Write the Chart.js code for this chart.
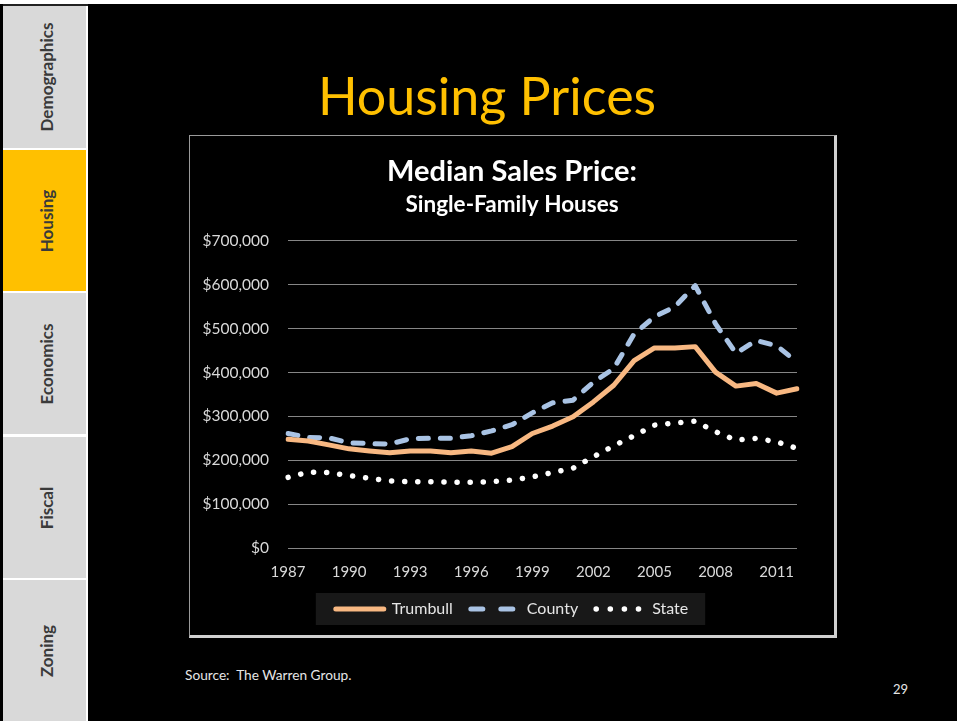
<!DOCTYPE html>
<html>
<head>
<meta charset="utf-8">
<script src="https://cdn.jsdelivr.net/npm/chart.js@4/dist/chart.umd.min.js"></script>
<style>
html,body{margin:0;padding:0;background:#fff;width:957px;height:721px;overflow:hidden;font-family:Lato,"Open Sans",sans-serif;}
#leftline{position:absolute;left:0;top:4px;width:3px;height:717px;background:#000;}
#topline{position:absolute;left:3px;top:4px;width:85px;height:2px;background:#222;}
#main{position:absolute;left:88px;top:4px;width:869px;height:717px;background:#000;}
.tab{position:absolute;left:3px;width:83px;background:#d9d9d9;}
.tab span{position:absolute;left:52%;top:50%;transform:translate(-50%,-50%) rotate(-90deg);white-space:nowrap;font-weight:bold;font-size:17px;color:#3a3a3a;}
.tab.active{background:#ffc000;}
#title{position:absolute;left:187px;width:600px;top:60px;text-align:center;color:#ffc000;font-size:52px;line-height:70px;}
#box{position:absolute;left:189px;top:135px;width:644px;height:499px;border-left:1px solid #9a9a9a;border-top:1px solid #9a9a9a;border-right:3px solid #d0d0d0;border-bottom:3px solid #d0d0d0;background:#000;}
#box canvas{position:absolute;left:0;top:0;}
#source{position:absolute;left:185px;top:666px;color:#e6e6e6;font-size:13.7px;}
#page{position:absolute;left:893px;top:681px;color:#e6e6e6;font-size:13px;}
</style>
</head>
<body>
<div id="main"></div>
<div id="leftline"></div>
<div id="topline"></div>
<div class="tab" style="top:6px;height:142px"><span>Demographics</span></div>
<div class="tab active" style="top:150px;height:141px"><span>Housing</span></div>
<div class="tab" style="top:293px;height:141px"><span>Economics</span></div>
<div class="tab" style="top:437px;height:141px"><span>Fiscal</span></div>
<div class="tab" style="top:580px;height:141px"><span>Zoning</span></div>
<div id="title">Housing Prices</div>
<div id="box"><canvas id="c" width="644" height="499"></canvas></div>
<div id="source">Source:&nbsp; The Warren Group.</div>
<div id="page">29</div>
<script>
const years = ['1987','1988','1989','1990','1991','1992','1993','1994','1995','1996','1997','1998','1999','2000','2001','2002','2003','2004','2005','2006','2007','2008','2009','2010','2011','2012'];
const trumbull = [248000,244000,235000,226000,221000,217000,221000,221000,217000,221000,216000,231000,261000,278000,299000,333000,371000,427000,456000,456000,459000,401000,369000,375000,353000,363000];
const county = [261000,252000,251000,240000,238000,237000,249000,250000,250000,256000,267000,281000,308000,331000,337000,378000,409000,488000,527000,550000,598000,511000,444000,473000,461000,424000];
const state = [161000,173000,172000,165000,159000,153000,151000,151000,150000,150000,151000,155000,162000,172000,182000,208000,233000,256000,280000,285000,289000,265000,246000,250000,242000,227000];
const yTicks = [0,100000,200000,300000,400000,500000,600000,700000];
const xLabelYears = ['1987','1990','1993','1996','1999','2002','2005','2008','2011'];
const legendDash = [[], [12, 18], [0.1, 14]];

Chart.defaults.font.family = 'Lato, "Open Sans", sans-serif';

const bgPlugin = {
  id: 'bg',
  beforeDraw(chart) {
    const ctx = chart.ctx;
    ctx.save();
    ctx.fillStyle = '#000';
    ctx.fillRect(0, 0, chart.width, chart.height);
    const lg = chart.legend;
    if (lg && lg.legendHitBoxes && lg.legendHitBoxes.length) {
      const hb = lg.legendHitBoxes;
      const x0 = Math.min(...hb.map(b => b.left));
      const x1 = Math.max(...hb.map(b => b.left + b.width));
      const y0 = Math.min(...hb.map(b => b.top));
      const y1 = Math.max(...hb.map(b => b.top + b.height));
      ctx.fillStyle = '#181818';
      ctx.fillRect(x0 - 20, y0 - 8, x1 - x0 + 37, y1 - y0 + 16);
    }
    ctx.restore();
  }
};

new Chart(document.getElementById('c'), {
  type: 'line',
  data: {
    labels: years,
    datasets: [
      {label: 'Trumbull', data: trumbull, borderColor: '#f8b882', backgroundColor: '#f8b882', borderWidth: 5, borderCapStyle: 'round', borderJoinStyle: 'round', pointRadius: 0, tension: 0},
      {label: 'County', data: county, borderColor: '#a9c3e4', backgroundColor: '#a9c3e4', borderWidth: 5, borderDash: [10, 12], borderCapStyle: 'round', borderJoinStyle: 'round', pointRadius: 0, tension: 0},
      {label: 'State', data: state, borderColor: '#ffffff', backgroundColor: '#ffffff', borderWidth: 5.5, borderDash: [0.1, 13], borderCapStyle: 'round', borderJoinStyle: 'round', pointRadius: 0, tension: 0}
    ]
  },
  options: {
    responsive: false,
    animation: false,
    devicePixelRatio: 1,
    layout: {padding: {left: 0, right: 0, top: 0, bottom: 8}},
    scales: {
      x: {
        offset: false,
        grid: {display: false, drawTicks: false},
        border: {display: false},
        ticks: {
          autoSkip: false, maxRotation: 0, padding: 15, color: '#d9d9d9', font: {size: 15},
          callback: function(v, i) { const l = years[i]; return xLabelYears.includes(l) ? l : ''; }
        },
        afterFit(s) { s.height = 35; }
      },
      y: {
        min: 0, max: 700000,
        afterBuildTicks(s) { s.ticks = yTicks.map(v => ({value: v})); },
        grid: {color: '#868686', lineWidth: 1, drawTicks: false},
        border: {display: false},
        ticks: {padding: 19, color: '#d9d9d9', font: {size: 15.5},
          callback: v => '$' + Number(v).toLocaleString('en-US')},
        afterFit(s) { s.width = 98; }
      },
      yRight: {
        position: 'right', display: true,
        grid: {display: false}, border: {display: false},
        ticks: {display: false},
        afterFit(s) { s.width = 37; }
      }
    },
    plugins: {
      title: {display: true, text: 'Median Sales Price:', color: '#ffffff', font: {size: 29, weight: 'bold'}, padding: {top: 18, bottom: 1}},
      subtitle: {display: true, text: 'Single-Family Houses', color: '#ffffff', font: {size: 22.5, weight: 'bold'}, padding: {top: 1.5, bottom: 22.6}},
      legend: {
        position: 'bottom',
        labels: {
          color: '#e6e6e6', font: {size: 16}, padding: 18,
          usePointStyle: true, pointStyleWidth: 48,
          generateLabels(chart) {
            const items = Chart.defaults.plugins.legend.labels.generateLabels(chart);
            items.forEach(it => {
              const ds = chart.data.datasets[it.datasetIndex];
              it.pointStyle = 'line';
              it.lineDash = legendDash[it.datasetIndex];
              it.lineCap = 'round';
              it.lineWidth = ds.borderWidth;
              it.strokeStyle = ds.borderColor;
            });
            return items;
          }
        }
      },
      tooltip: {enabled: false}
    }
  },
  plugins: [bgPlugin]
});
</script>
</body>
</html>
